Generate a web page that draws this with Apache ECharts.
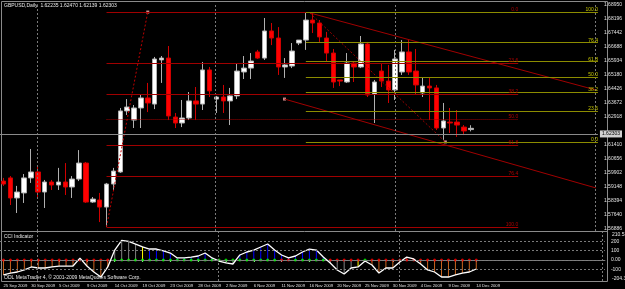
<!DOCTYPE html>
<html><head><meta charset="utf-8">
<script src="https://cdn.jsdelivr.net/npm/echarts@6/dist/echarts.min.js"></script>
<style>html,body{margin:0;padding:0;background:#000;}#c{width:625px;height:289px;}</style>
</head><body><div id="c"></div>
<script>
// ---------- data ----------
const dates = ["25 Sep 2009","27 Sep 2009","28 Sep 2009","29 Sep 2009","30 Sep 2009",
"1 Oct 2009","2 Oct 2009","4 Oct 2009","5 Oct 2009","6 Oct 2009","7 Oct 2009","8 Oct 2009","9 Oct 2009",
"11 Oct 2009","12 Oct 2009","13 Oct 2009","14 Oct 2009","15 Oct 2009","16 Oct 2009","18 Oct 2009","19 Oct 2009",
"20 Oct 2009","21 Oct 2009","22 Oct 2009","23 Oct 2009","25 Oct 2009","26 Oct 2009","27 Oct 2009","28 Oct 2009",
"29 Oct 2009","30 Oct 2009","1 Nov 2009","2 Nov 2009","3 Nov 2009","4 Nov 2009","5 Nov 2009","6 Nov 2009",
"8 Nov 2009","9 Nov 2009","10 Nov 2009","11 Nov 2009","12 Nov 2009","13 Nov 2009","15 Nov 2009","16 Nov 2009",
"17 Nov 2009","18 Nov 2009","19 Nov 2009","20 Nov 2009","22 Nov 2009","23 Nov 2009","24 Nov 2009","25 Nov 2009",
"26 Nov 2009","27 Nov 2009","29 Nov 2009","30 Nov 2009","1 Dec 2009","2 Dec 2009","3 Dec 2009","4 Dec 2009",
"6 Dec 2009","7 Dec 2009","8 Dec 2009","9 Dec 2009","10 Dec 2009","11 Dec 2009","13 Dec 2009","14 Dec 2009"];
const opens  = [1.5946,1.5963,1.5855,1.5882,1.5963,1.5995,1.5887,1.5941,1.5925,1.5941,1.5914,1.5957,1.6043,1.5833,1.5844,1.5806,1.5930,1.5995,1.6324,1.6275,1.6340,1.6394,1.6361,1.6599,1.6609,1.6291,1.6259,1.6286,1.6378,1.6361,1.6545,1.6388,1.6399,1.6378,1.6405,1.6534,1.6555,1.6642,1.6609,1.6755,1.6717,1.6561,1.6566,1.6690,1.6706,1.6814,1.6798,1.6717,1.6636,1.6491,1.6480,1.6582,1.6561,1.6685,1.6415,1.6539,1.6485,1.6437,1.6534,1.6642,1.6539,1.6421,1.6458,1.6448,1.6232,1.6264,1.6264,1.6237,1.62235];
const closes = [1.5930,1.5855,1.5887,1.5963,1.5995,1.5887,1.5941,1.5925,1.5941,1.5914,1.5957,1.6043,1.5833,1.5849,1.5806,1.5930,1.6000,1.6324,1.6345,1.6340,1.6394,1.6367,1.6604,1.6609,1.6297,1.6259,1.6286,1.6378,1.6361,1.6545,1.6432,1.6399,1.6378,1.6405,1.6539,1.6555,1.6593,1.6609,1.6755,1.6717,1.6561,1.6572,1.6647,1.6706,1.6814,1.6798,1.6723,1.6636,1.6480,1.6485,1.6582,1.6561,1.6685,1.6410,1.6480,1.6485,1.6437,1.6604,1.6642,1.6534,1.6464,1.6458,1.6448,1.6232,1.6270,1.6259,1.6248,1.6216,1.62303];
const lows   = [1.5920,1.5817,1.5774,1.5828,1.5936,1.5860,1.5801,1.5898,1.5898,1.5871,1.5855,1.5946,1.5828,1.5828,1.5725,1.5699,1.5898,1.5990,1.6302,1.6232,1.6232,1.6318,1.6334,1.6475,1.6275,1.6232,1.6237,1.6275,1.6275,1.6329,1.6399,1.6313,1.6313,1.6248,1.6388,1.6496,1.6496,1.6604,1.6599,1.6679,1.6518,1.6502,1.6555,1.6679,1.6653,1.6744,1.6696,1.6588,1.6448,1.6458,1.6475,1.6480,1.6555,1.6399,1.6259,1.6453,1.6367,1.6383,1.6518,1.6518,1.6410,1.6399,1.6275,1.6221,1.6167,1.6205,1.6184,1.6194,1.62139];
const highs  = [1.5963,1.5973,1.5920,1.5984,1.6119,1.6022,1.5952,1.5952,1.6017,1.6043,1.5973,1.6113,1.6049,1.5860,1.5882,1.5936,1.6017,1.6340,1.6388,1.6356,1.6415,1.6475,1.6615,1.6620,1.6674,1.6313,1.6383,1.6426,1.6453,1.6588,1.6561,1.6405,1.6464,1.6448,1.6582,1.6620,1.6636,1.6653,1.6825,1.6798,1.6776,1.6609,1.6690,1.6706,1.6857,1.6852,1.6814,1.6750,1.6658,1.6491,1.6636,1.6588,1.6728,1.6696,1.6491,1.6582,1.6572,1.6653,1.6706,1.6706,1.6658,1.6502,1.6502,1.6464,1.6367,1.6340,1.6329,1.6248,1.62470];
const cci    = [-161,-140,-129,-107,-75,-86,-86,-75,-65,-65,-65,20,-65,-129,-183,-75,107,210,200,170,140,118,118,97,75,22,22,32,43,75,22,-11,-32,-43,54,86,107,140,172,107,54,22,43,86,118,107,32,-32,-107,-150,-86,-75,-11,-54,-140,-86,-86,-22,32,11,-43,-107,-129,-183,-183,-161,-140,-129,-97];
const dotGreen = [0,0,0,0,0,0,0,0,0,0,0,0,0,0,0,0,1,1,1,1,1,1,1,1,1,1,1,1,1,1,1,1,1,1,1,1,1,1,1,1,0,0,1,1,1,1,1,0,0,0,0,0,1,0,0,0,0,0,0,0,0,0,0,0,0,0,0,0,0];
const priceTicks = [1.68950,1.68196,1.67442,1.66688,1.65934,1.65180,1.64426,1.63672,1.62918,1.61410,1.60656,1.59902,1.59148,1.58394,1.57640,1.56886];
const cciTicks = [200,100,0,-100];
const cciEdge = ["210.5370","-204.3566"];
const fibLevels = [0,23.6,38.2,50,61.8,76.4,100];
const redFib = {x0:15, x1:74.9, hi:1.6857, lo:1.5699};
const yelFib = {x0:44, x1:86.5, hi:1.6857, lo:1.6157};
const redFibDiag = [[15,1.5699],[21,1.6857]];
const yelFibDiag = [[44.6,1.6852],[64.3,1.6157]];
const chanUpper = [[44.6,1.6852],[86.2,1.6437]];
const chanLower = [[40.9,1.6388],[86.2,1.5909]];
const anchors = [[21,1.6857],[40.9,1.6388],[64.3,1.6157]];
const vGrid = [4.88,30.85,56.96,86.1];
const symbol = "GBPUSD,Daily";
const nSlots = 87;

// ---------- build ----------
const N = dates.length;
const cats = dates.concat(Array(nSlots-N).fill(''));
const candles = opens.map((o,i)=>[o,closes[i],lows[i],highs[i]]);
const BLUE='#0000ff', BROWN='#c8641e', GREY='#808080', YEL='#ffff00';
function histColors(v){
  let trend=-1,side=0,cnt=0;const out=[];
  for(let i=0;i<v.length;i++){
    const s=v[i]>=0?1:-1;
    if(s===side)cnt++;else{side=s;cnt=1;}
    if(s!==trend&&cnt>=6)trend=s;
    out.push(s===trend?(s>0?BLUE:BROWN):(cnt===5?YEL:GREY));
  }
  return out;
}
const hc = histColors(cci);
const FONT='Liberation Sans', FS=5, FSD=4.2;
const last = N-1;
const fmt = v=>v.toFixed(5);

function fibSeries(f, dir, color, lblColor, dottedAt){
  const data = fibLevels.map(l=>{
    const p = dir>0 ? f.lo + (f.hi-f.lo)*l/100 : f.hi - (f.hi-f.lo)*l/100;
    return [{coord:[f.x0,p], lineStyle:{type: l===dottedAt?'dotted':'solid'}}, {coord:[f.x1,p], label:{formatter:l.toFixed(1)}}];
  });
  return {type:'line', xAxisIndex:1, yAxisIndex:0, data:[], silent:true,
    markLine:{symbol:'none', silent:true, animation:false, lineStyle:{color, width:1, type:'solid'},
      label:{show:true, position:'insideEndTop', color:lblColor, fontSize:FS, fontFamily:FONT, distance:[0,0]},
      data}};
}
function seg(pts, color, type){
  return {type:'line', xAxisIndex:1, yAxisIndex:0, data:pts, symbol:'none', silent:true,
    lineStyle:{color, width:1, type}, animation:false};
}
const showIdx = (i)=>i%4===0&&i<N;

const chart = echarts.init(document.getElementById('c'), null, {renderer:'canvas'});
chart.setOption({
  backgroundColor:'#000',
  animation:false,
  textStyle:{fontFamily:FONT},
  grid:[{left:-1.5, width:606.4, top:3, height:228},
        {left:-1.5, width:606.4, top:232, height:49}],
  xAxis:[
    {type:'category', gridIndex:0, data:cats, boundaryGap:true, show:false},
    {type:'value', gridIndex:0, min:-0.5, max:nSlots-0.5, show:false},
    {type:'category', gridIndex:1, data:cats, boundaryGap:true,
      axisLine:{show:true, lineStyle:{color:'#808080'}},
      axisTick:{show:true, length:2, alignWithLabel:true, interval:showIdx, lineStyle:{color:'#c0c0c0'}},
      axisLabel:{show:true, interval:showIdx, showMinLabel:true, hideOverlap:false, align:'left', color:'#e0e0e0', fontSize:FSD, margin:3, fontFamily:FONT},
      splitLine:{show:false}},
    {type:'value', gridIndex:1, min:-0.5, max:nSlots-0.5, show:false}
  ],
  yAxis:[
    {type:'value', gridIndex:0, position:'right', min:1.56769, max:1.69058, scale:true,
      axisLine:{show:false}, axisTick:{show:false}, splitLine:{show:false},
      axisLabel:{show:true, customValues:priceTicks, formatter:v=>fmt(v), color:'#e0e0e0', fontSize:FS, margin:6, fontFamily:FONT}},
    {type:'value', gridIndex:1, position:'right', min:-225.75, max:301,
      axisLine:{show:false}, axisTick:{show:false}, splitLine:{show:false},
      axisLabel:{show:true, customValues:cciTicks, formatter:v=>v===0?'0.00':String(v), color:'#e0e0e0', fontSize:FS, margin:6, fontFamily:FONT}}
  ],
  series:[
    {type:'line', xAxisIndex:1, yAxisIndex:0, data:[], silent:true,
      markLine:{symbol:'none', silent:true, label:{show:false}, lineStyle:{color:'#7a7a7a', type:[2,2], width:1}, data:vGrid.map(x=>({xAxis:x}))}},
    {type:'line', xAxisIndex:3, yAxisIndex:1, data:[], silent:true,
      markLine:{symbol:'none', silent:true, label:{show:false}, lineStyle:{color:'#7a7a7a', type:[2,2], width:1},
        data:vGrid.map(x=>({xAxis:x})).concat(cciTicks.map(y=>({yAxis:y})))}},
    fibSeries(redFib, -1, '#a00000', '#b00000', 50),
    fibSeries(yelFib, 1, '#8c8c00', '#c8c800', -1),
    seg(redFibDiag, '#c00000', [2,2]),
    seg(yelFibDiag, '#a00000', [2,2]),
    seg(chanUpper, '#a00000', 'solid'),
    seg(chanLower, '#a00000', 'solid'),
    {type:'scatter', xAxisIndex:1, yAxisIndex:0, data:anchors, symbol:'rect', symbolSize:3, itemStyle:{color:'#ffb0b0'}, silent:true},
    {type:'candlestick', xAxisIndex:0, yAxisIndex:0, data:candles, barWidth:5,
      itemStyle:{color:'#ffffff', color0:'#ff0000', borderColor:'#b0b0b0', borderColor0:'#d00000', borderWidth:1},
      markLine:{symbol:'none', silent:true, lineStyle:{color:'#8a8a8a', type:'solid', width:1},
        label:{show:true, position:'end', formatter:()=>fmt(closes[last]), backgroundColor:'#d0d0d0', color:'#000', fontSize:FS, padding:[1,2], distance:2, fontFamily:FONT},
        data:[{yAxis:closes[last]}]}},
    {type:'bar', xAxisIndex:2, yAxisIndex:1, barWidth:1,
      data:cci.map((v,i)=>({value:v, itemStyle:{color:hc[i]}})), silent:true},
    {type:'scatter', xAxisIndex:2, yAxisIndex:1, symbolSize:3, silent:true,
      data:dotGreen.map((g,i)=>({value:[i,0], itemStyle:{color:g?'#00ff00':'#ff0000'}}))},
    {type:'line', xAxisIndex:2, yAxisIndex:1, data:cci, symbol:'none', lineStyle:{color:'#ffffff', width:1.3}, silent:true}
  ],
  graphic:[
    {type:'rect', shape:{x:1.5,y:1.5,width:606,height:280}, style:{fill:null, stroke:'#8a8a8a', lineWidth:1}, silent:true},
    {type:'line', shape:{x1:1.5,y1:231.5,x2:607.5,y2:231.5}, style:{stroke:'#8a8a8a', lineWidth:1}, silent:true},
    {type:'text', left:4, top:3, style:{text:symbol+'  '+[opens[last],highs[last],lows[last],closes[last]].map(fmt).join(' '), fill:'#e8e8e8', font:FS+'px '+FONT}},
    {type:'text', left:4, top:234, style:{text:'CCI Indicator', fill:'#e8e8e8', font:FS+'px '+FONT}},
    {type:'text', left:4, top:275, style:{text:'ODL MetaTrader 4, \u00a9 2001-2009 MetaQuotes Software Corp.', fill:'#e8e8e8', font:FS+'px '+FONT}},
    {type:'text', left:612, top:232, style:{text:cciEdge[0], fill:'#e8e8e8', font:FS+'px '+FONT}},
    {type:'text', left:612, top:276, style:{text:cciEdge[1], fill:'#e8e8e8', font:FS+'px '+FONT}}
  ]
});
</script></body></html>
